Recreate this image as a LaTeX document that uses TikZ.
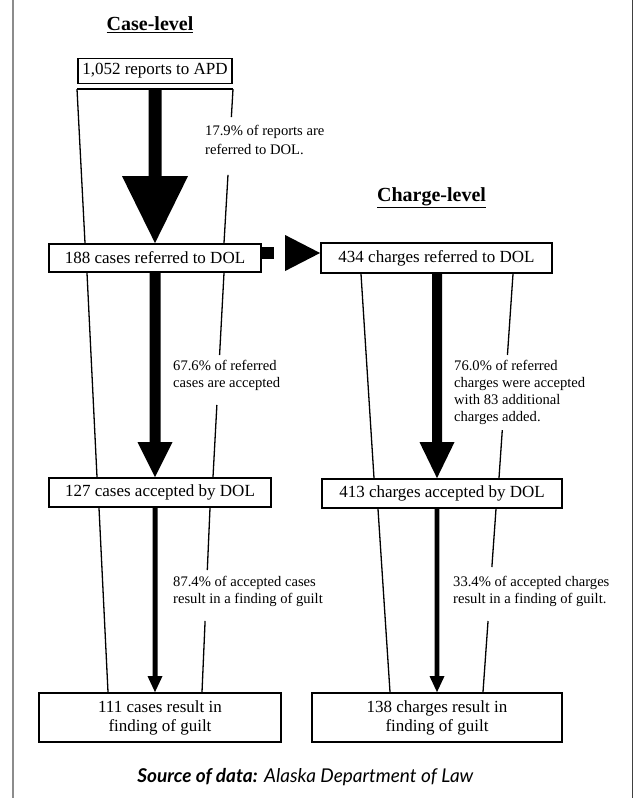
\documentclass[tikz,border=0pt]{standalone}
\usepackage{fontspec}
\setmainfont{Liberation Serif}
\newfontfamily\srcfont{Lato}
\usetikzlibrary{calc}
\newcommand{\fatarrow}[5]{% #1 start, #2 tip, #3 half shaft, #4 half head, #5 head length
  \fill ($(#1)+(-#3,0)$) -- ($(#2)+(-#3,-#5)$) -- ($(#2)+(-#4,-#5)$) -- (#2)
        -- ($(#2)+(#4,-#5)$) -- ($(#2)+(#3,-#5)$) -- ($(#1)+(#3,0)$) -- cycle;}
\begin{document}
\begin{tikzpicture}[x=1pt,y=-1pt,
  box/.style={draw, line width=1.8pt, fill=white, inner sep=0pt, align=center,
              font=\fontsize{17}{19}\selectfont},
  lbl/.style={inner sep=0pt, align=left, anchor=west,
              font=\fontsize{14.6}{17}\selectfont},
  funnel/.style={line width=1.3pt},
  ttl/.style={inner sep=0pt, font=\fontsize{20}{24}\selectfont\bfseries},
  frameL/.style={draw=black!45, line width=2pt},
  frameR/.style={draw=black!75, line width=1.5pt}]
\useasboundingbox (0,0) rectangle (637,798);
% page frame
\draw[frameL] (13,0) -- (13,798);
\draw[frameR] (632.5,0) -- (632.5,798);
% titles
\node[ttl] (tcase) at (150,25) {\underline{Case-level}};
\node[ttl] (tcharge) at (431.5,198) {\underline{Charge-level}};
% axes of the arrows
\coordinate (caxis) at (155,0);
\coordinate (gaxis) at (437,0);
\coordinate (hy) at (0,253);
% funnels (drawn first, boxes on top)
\draw[line width=1.7pt] (77,89) -- (233,89);
\draw[funnel] (77,89) -- (85,243);
\draw[funnel] (233,89) -- ($(233,89)!0.182!(224,243)$) ($(233,89)!0.558!(224,243)$) -- (224,243);
\draw[funnel] (87,273) -- (97,477);
\draw[funnel] (224,273) -- ($(224,273)!0.402!(213,477)$) ($(224,273)!0.647!(213,477)$) -- (213,477);
\draw[funnel] (99,508) -- (108,692);
\draw[funnel] (210,508) -- ($(210,508)!0.337!(202,692)$) ($(210,508)!0.614!(202,692)$) -- (202,692);
\draw[funnel] (361,274) -- (374,478);
\draw[funnel] (513,274) -- ($(513,274)!0.397!(499,478)$) ($(513,274)!0.765!(499,478)$) -- (499,478);
\draw[funnel] (378,509) -- (390,692);
\draw[funnel] (496,509) -- ($(496,509)!0.317!(483,692)$) ($(496,509)!0.612!(483,692)$) -- (483,692);
% boxes
\node[box, minimum width=154pt, minimum height=25pt] (rep) at (155,71) {1,052 reports to APD};
\node[box, minimum width=212pt, minimum height=28pt] (ref) at (155,258) {188 cases referred to DOL};
\node[box, minimum width=231pt, minimum height=30pt] (cref) at (436.5,258) {434 charges referred to DOL};
\node[box, minimum width=222pt, minimum height=29pt] (acc) at (160,492.5) {127 cases accepted by DOL};
\node[box, minimum width=240pt, minimum height=29pt] (cacc) at (442,493.5) {413 charges accepted by DOL};
\node[box, minimum width=242pt, minimum height=49pt] (guilt) at (160,717.5) {111 cases result in\\finding of guilt};
\node[box, minimum width=250pt, minimum height=49pt] (cguilt) at (437,717.5) {138 charges result in\\finding of guilt};
% arrows
\coordinate (f1top) at (155,89);
\fatarrow{f1top}{ref.north -| caxis}{6.5}{33}{67}
\fatarrow{ref.south -| caxis}{acc.north -| caxis}{5.5}{17.5}{35}
\fatarrow{acc.south -| caxis}{guilt.north -| caxis}{2.5}{7.5}{16}
\fatarrow{cref.south -| gaxis}{cacc.north -| gaxis}{5}{17.5}{36}
\fatarrow{cacc.south -| gaxis}{cguilt.north -| gaxis}{2.3}{7.5}{16}
% horizontal broken arrow
\fill (ref.east |- hy) ++(0,-6) rectangle ++(12,12);
\fill (cref.west |- hy) -- ++(-35,-18) -- ++(0,36) -- cycle;
% labels
\node[lbl, font=\fontsize{14.6}{18.5}\selectfont] (l1) at (205,140) {17.9\% of reports are\\referred to DOL.};
\node[lbl] (l2) at (173,375.5) {67.6\% of referred\\cases are accepted};
\node[lbl] (l3) at (173,591) {87.4\% of accepted cases\\result in a finding of guilt};
\node[lbl] (l4) at (454,392.5) {76.0\% of referred\\charges were accepted\\with 83 additional\\charges added.};
\node[lbl] (l5) at (453,591) {33.4\% of accepted charges\\result in a finding of guilt.};
% source
\node[inner sep=0pt, font=\srcfont\fontsize{19}{22}\selectfont] (src) at (305.5,777)
  {\textbf{\textit{Source of data:}} \textit{Alaska Department of Law}};
\end{tikzpicture}
\end{document}
